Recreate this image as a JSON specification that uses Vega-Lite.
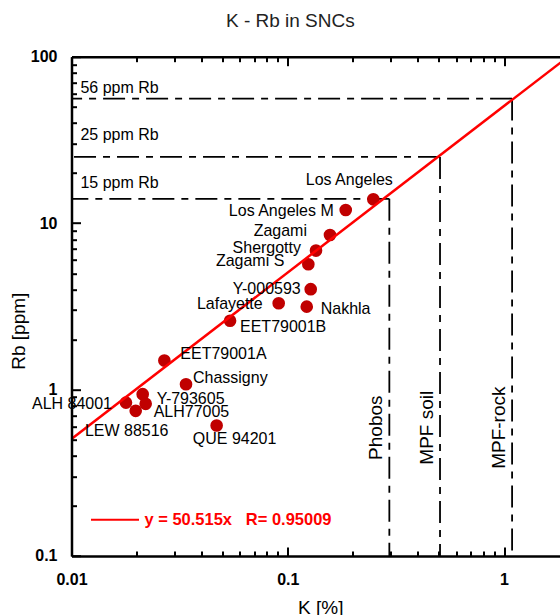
{
  "$schema": "https://vega.github.io/schema/vega-lite/v6.json",
  "autosize": "none",
  "padding": {"left": 71.5, "top": 56.7, "right": 0, "bottom": 59},
  "width": 497.6,
  "height": 499.3,
  "background": "white",
  "title": {"text": "K - Rb in SNCs", "font": "Liberation Sans", "fontSize": 19, "fontWeight": "normal", "color": "#222222", "offset": 17.5, "dx": -30, "anchor": "middle"},
  "config": {"view": {"stroke": null}, "font": "Liberation Sans"},
  "datasets": {
    "pts": [
      {"name": "Los Angeles", "k": 0.2487, "rb": 13.9},
      {"name": "Los Angeles M", "k": 0.1854, "rb": 12.0},
      {"name": "Zagami", "k": 0.1568, "rb": 8.49},
      {"name": "Shergotty", "k": 0.1351, "rb": 6.84},
      {"name": "Zagami S", "k": 0.1245, "rb": 5.66},
      {"name": "Y-000593", "k": 0.1277, "rb": 4.01},
      {"name": "Lafayette", "k": 0.0908, "rb": 3.30},
      {"name": "Nakhla", "k": 0.1224, "rb": 3.15},
      {"name": "EET79001B", "k": 0.0541, "rb": 2.59},
      {"name": "EET79001A", "k": 0.02688, "rb": 1.494},
      {"name": "Chassigny", "k": 0.03385, "rb": 1.077},
      {"name": "Y-793605", "k": 0.02134, "rb": 0.938},
      {"name": "ALH 84001", "k": 0.01786, "rb": 0.835},
      {"name": "ALH77005", "k": 0.02203, "rb": 0.821},
      {"name": "LEW 88516", "k": 0.01981, "rb": 0.745},
      {"name": "QUE 94201", "k": 0.0469, "rb": 0.608}
    ],
    "fit": [
      {"k": 0.01, "rb": 0.50515, "label": "y = 50.515x\u00a0\u00a0\u00a0R= 0.95009"},
      {"k": 2, "rb": 101.03, "label": "y = 50.515x\u00a0\u00a0\u00a0R= 0.95009"}
    ],
    "refs": [
      {"rb": 56, "k": 1.09, "hlabel": "56 ppm Rb", "vlabel": "MPF-rock"},
      {"rb": 25, "k": 0.506, "hlabel": "25 ppm Rb", "vlabel": "MPF soil"},
      {"rb": 14, "k": 0.295, "hlabel": "15 ppm Rb", "vlabel": "Phobos"}
    ]
  },
  "resolve": {"axis": {"x": "independent", "y": "independent"}},
  "layer": [
    {
      "data": {"name": "refs"},
      "mark": {"type": "rule", "color": "black", "strokeWidth": 1.8, "strokeDash": [22, 7, 7, 7]},
      "encoding": {
        "x": {"field": "k", "type": "quantitative", "scale": {"type": "log", "domain": [0.01, 2], "nice": false}, "axis": null},
        "x2": {"datum": 0.01},
        "y": {"field": "rb", "type": "quantitative", "scale": {"type": "log", "domain": [0.1, 100], "nice": false}, "axis": null}
      }
    },
    {
      "data": {"name": "refs"},
      "mark": {"type": "rule", "color": "black", "strokeWidth": 1.8, "strokeDash": [22, 7, 7, 7]},
      "encoding": {
        "x": {"field": "k", "type": "quantitative", "scale": {"type": "log", "domain": [0.01, 2], "nice": false}, "axis": null},
        "y": {"field": "rb", "type": "quantitative", "scale": {"type": "log", "domain": [0.1, 100], "nice": false}, "axis": null},
        "y2": {"datum": 0.1}
      }
    },
    {
      "data": {"name": "refs"},
      "encoding": {
        "x": {"datum": 0.011, "type": "quantitative", "scale": {"type": "log", "domain": [0.01, 2], "nice": false}, "axis": null},
        "y": {"field": "rb", "type": "quantitative", "scale": {"type": "log", "domain": [0.1, 100], "nice": false}, "axis": null},
        "text": {"field": "hlabel"}
      },
      "layer": [
        {"transform": [{"filter": {"field": "rb", "equal": 56}}], "mark": {"type": "text", "align": "left", "baseline": "middle", "dy": -11, "font": "Liberation Sans", "fontSize": 16, "color": "black"}},
        {"transform": [{"filter": {"field": "rb", "equal": 25}}], "mark": {"type": "text", "align": "left", "baseline": "middle", "dy": -22, "font": "Liberation Sans", "fontSize": 16, "color": "black"}},
        {"transform": [{"filter": {"field": "rb", "equal": 14}}], "mark": {"type": "text", "align": "left", "baseline": "middle", "dy": -16, "font": "Liberation Sans", "fontSize": 16, "color": "black"}}
      ]
    },
    {
      "data": {"name": "refs"},
      "mark": {"type": "text", "angle": 270, "align": "center", "baseline": "middle", "dy": -13, "font": "Liberation Sans", "fontSize": 19, "color": "black"},
      "encoding": {
        "x": {"field": "k", "type": "quantitative", "scale": {"type": "log", "domain": [0.01, 2], "nice": false}, "axis": null},
        "y": {"datum": 0.59, "type": "quantitative", "scale": {"type": "log", "domain": [0.1, 100], "nice": false}, "axis": null},
        "text": {"field": "vlabel"}
      }
    },
    {
      "data": {"name": "pts"},
      "mark": {"type": "circle", "size": 160, "color": "#c00000", "opacity": 1},
      "encoding": {
        "x": {"field": "k", "type": "quantitative", "scale": {"type": "log", "domain": [0.01, 2], "nice": false},
          "axis": {"orient": "top", "title": null, "labels": false, "grid": false, "values": [0.01,0.02,0.03,0.04,0.05,0.06,0.07,0.08,0.09,0.1,0.2,0.3,0.4,0.5,0.6,0.7,0.8,0.9,1,2],
            "domain": true, "domainColor": "black", "domainWidth": 2.5, "tickColor": "black", "tickWidth": 2,
            "tickSize": {"condition": {"test": "datum.value === 0.01 || datum.value === 0.1 || datum.value === 1", "value": -9}, "value": -5}, "zindex": 1}},
        "y": {"field": "rb", "type": "quantitative", "scale": {"type": "log", "domain": [0.1, 100], "nice": false}, "axis": null}
      }
    },
    {
      "data": {"name": "fit"},
      "mark": {"type": "line", "strokeWidth": 2.5, "clip": true},
      "encoding": {
        "x": {"field": "k", "type": "quantitative", "scale": {"type": "log", "domain": [0.01, 2], "nice": false},
          "axis": {"orient": "bottom", "title": "K [%]", "grid": false, "values": [0.01,0.02,0.03,0.04,0.05,0.06,0.07,0.08,0.09,0.1,0.2,0.3,0.4,0.5,0.6,0.7,0.8,0.9,1,2],
            "labelExpr": "datum.value === 0.01 ? '0.01' : datum.value === 0.1 ? '0.1' : datum.value === 1 ? '1' : ''",
            "domain": true, "domainColor": "black", "domainWidth": 2.5, "tickColor": "black", "tickWidth": 2,
            "tickSize": {"condition": {"test": "datum.value === 0.01 || datum.value === 0.1 || datum.value === 1", "value": -9}, "value": -5},
            "labelFont": "Liberation Sans", "labelFontSize": 16, "labelFontWeight": "bold", "labelColor": "black", "labelPadding": 25, "labelFlush": false, "labelOverlap": false,
            "titleFont": "Liberation Sans", "titleFontSize": 19, "titleFontWeight": "normal", "titleColor": "black", "titlePadding": 7, "zindex": 1}},
        "y": {"field": "rb", "type": "quantitative", "scale": {"type": "log", "domain": [0.1, 100], "nice": false},
          "axis": {"orient": "left", "title": "Rb [ppm]", "grid": false, "values": [0.1,0.2,0.3,0.4,0.5,0.6,0.7,0.8,0.9,1,2,3,4,5,6,7,8,9,10,20,30,40,50,60,70,80,90,100],
            "labelExpr": "datum.value === 0.1 ? '0.1' : datum.value === 1 ? '1' : datum.value === 10 ? '10' : datum.value === 100 ? '100' : ''",
            "domain": true, "domainColor": "black", "domainWidth": 2.5, "tickColor": "black", "tickWidth": 2,
            "tickSize": {"condition": {"test": "datum.value === 0.1 || datum.value === 1 || datum.value === 10 || datum.value === 100", "value": -9}, "value": -5},
            "labelFont": "Liberation Sans", "labelFontSize": 16, "labelFontWeight": "bold", "labelColor": "black", "labelPadding": 23.5, "labelFlush": false, "labelOverlap": false,
            "titleFont": "Liberation Sans", "titleFontSize": 19, "titleFontWeight": "normal", "titleColor": "black", "titlePadding": 2, "titleY": 274, "zindex": 1}},
        "color": {"field": "label", "type": "nominal", "scale": {"range": ["#ff0000"]},
          "legend": {"orient": "bottom-left", "title": null, "offset": 27, "padding": 0, "symbolType": "stroke", "symbolSize": 2304, "symbolStrokeWidth": 2, "symbolOffset": -8.5,
            "labelFont": "Liberation Sans", "labelFontSize": 16.5, "labelFontWeight": "bold", "labelColor": "#ff0000", "labelOffset": 4.5, "labelLimit": 400}}
      }
    },
    {
      "data": {"name": "pts"},
      "encoding": {
        "x": {"field": "k", "type": "quantitative", "scale": {"type": "log", "domain": [0.01, 2], "nice": false}, "axis": null},
        "y": {"field": "rb", "type": "quantitative", "scale": {"type": "log", "domain": [0.1, 100], "nice": false}, "axis": null},
        "text": {"field": "name"}
      },
      "layer": [
        {"transform": [{"filter": {"field": "name", "equal": "Los Angeles"}}], "mark": {"type": "text", "align": "center", "baseline": "middle", "dx": -24, "dy": -19, "fontSize": 16, "color": "black"}},
        {"transform": [{"filter": {"field": "name", "equal": "Los Angeles M"}}], "mark": {"type": "text", "align": "right", "baseline": "middle", "dx": -12, "dy": 1, "fontSize": 16, "color": "black"}},
        {"transform": [{"filter": {"field": "name", "equal": "Zagami"}}], "mark": {"type": "text", "align": "right", "baseline": "middle", "dx": -23, "dy": -4, "fontSize": 16, "color": "black"}},
        {"transform": [{"filter": {"field": "name", "equal": "Shergotty"}}], "mark": {"type": "text", "align": "right", "baseline": "middle", "dx": -15, "dy": -3, "fontSize": 16, "color": "black"}},
        {"transform": [{"filter": {"field": "name", "equal": "Zagami S"}}], "mark": {"type": "text", "align": "right", "baseline": "middle", "dx": -24, "dy": -3, "fontSize": 16, "color": "black"}},
        {"transform": [{"filter": {"field": "name", "equal": "Y-000593"}}], "mark": {"type": "text", "align": "right", "baseline": "middle", "dx": -10, "dy": 0, "fontSize": 16, "color": "black"}},
        {"transform": [{"filter": {"field": "name", "equal": "Lafayette"}}], "mark": {"type": "text", "align": "right", "baseline": "middle", "dx": -16, "dy": 1, "fontSize": 16, "color": "black"}},
        {"transform": [{"filter": {"field": "name", "equal": "ALH 84001"}}], "mark": {"type": "text", "align": "right", "baseline": "middle", "dx": -14, "dy": 1, "fontSize": 16, "color": "black"}},
        {"transform": [{"filter": {"field": "name", "equal": "Nakhla"}}], "mark": {"type": "text", "align": "left", "baseline": "middle", "dx": 14, "dy": 2, "fontSize": 16, "color": "black"}},
        {"transform": [{"filter": {"field": "name", "equal": "EET79001B"}}], "mark": {"type": "text", "align": "left", "baseline": "middle", "dx": 10, "dy": 6, "fontSize": 16, "color": "black"}},
        {"transform": [{"filter": {"field": "name", "equal": "EET79001A"}}], "mark": {"type": "text", "align": "left", "baseline": "middle", "dx": 16, "dy": -7, "fontSize": 16, "color": "black"}},
        {"transform": [{"filter": {"field": "name", "equal": "Chassigny"}}], "mark": {"type": "text", "align": "left", "baseline": "middle", "dx": 7, "dy": -6, "fontSize": 16, "color": "black"}},
        {"transform": [{"filter": {"field": "name", "equal": "Y-793605"}}], "mark": {"type": "text", "align": "left", "baseline": "middle", "dx": 14, "dy": 5, "fontSize": 16, "color": "black"}},
        {"transform": [{"filter": {"field": "name", "equal": "ALH77005"}}], "mark": {"type": "text", "align": "left", "baseline": "middle", "dx": 8, "dy": 8, "fontSize": 16, "color": "black"}},
        {"transform": [{"filter": {"field": "name", "equal": "LEW 88516"}}], "mark": {"type": "text", "align": "center", "baseline": "middle", "dx": -9, "dy": 20, "fontSize": 16, "color": "black"}},
        {"transform": [{"filter": {"field": "name", "equal": "QUE 94201"}}], "mark": {"type": "text", "align": "center", "baseline": "middle", "dx": 18, "dy": 13, "fontSize": 16, "color": "black"}}
      ]
    }
  ]
}
